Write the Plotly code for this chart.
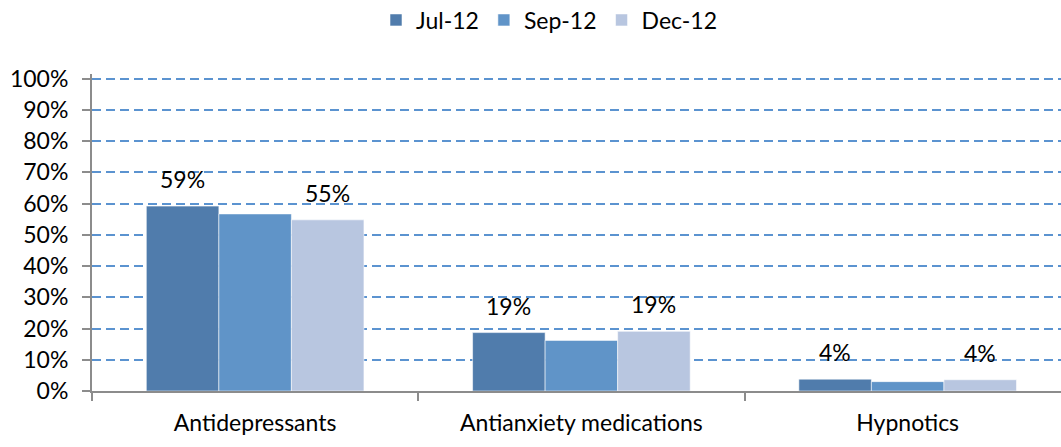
import plotly.graph_objects as go

categories = ["Antidepressants", "Antianxiety medications", "Hypnotics"]
series_names = ["Jul-12", "Sep-12", "Dec-12"]
jul_values = [59.2, 18.7, 3.8]
sep_values = [56.7, 16.2, 3.0]
dec_values = [54.8, 19.1, 3.6]
labeled_series = ["Jul-12", "Dec-12"]
y_tick_vals = [0, 10, 20, 30, 40, 50, 60, 70, 80, 90, 100]
y_tick_text = ["0%", "10%", "20%", "30%", "40%", "50%", "60%", "70%", "80%", "90%", "100%"]

colors = ["#507CAC", "#6094C8", "#B8C6E0"]
values = [jul_values, sep_values, dec_values]

FONT = "Lato, 'Open Sans', sans-serif"
FS = 23

fig = go.Figure()
for name, vals, col in zip(series_names, values, colors):
    fig.add_trace(go.Bar(
        x=categories, y=vals, name=name,
        marker=dict(color=col, line=dict(color="rgba(255,255,255,0.55)", width=1)),
        hoverinfo="skip",
    ))

W = 1061
ml, mr = 92, 0
plot_w = W - ml - mr
x_range = [-0.5, 2.47]
px_per_cat = plot_w / (x_range[1] - x_range[0])
bargap = 0.333
bar_w = px_per_cat * (1 - bargap) / 3
offsets = {"Jul-12": -bar_w, "Sep-12": 0, "Dec-12": bar_w}
for name, vals in zip(series_names, values):
    if name not in labeled_series:
        continue
    for c, v in zip(categories, vals):
        fig.add_annotation(
            x=c, y=v, xref="x", yref="y", text=f"{v:.0f}%",
            showarrow=False, yanchor="bottom", xanchor="center",
            xshift=offsets[name], yshift=11,
            font=dict(family=FONT, size=FS, color="#000000"),
        )

fig.update_layout(
    width=1061, height=447,
    margin=dict(l=ml, r=mr, t=74, b=56, autoexpand=False),
    paper_bgcolor="white", plot_bgcolor="white",
    barmode="group", bargap=bargap, bargroupgap=0,
    font=dict(family=FONT, size=FS, color="#000000"),
    showlegend=True,
    legend=dict(orientation="h", x=0.5 + 19 / 1061, xref="container", xanchor="center",
                y=1 - 20 / 447, yref="container", yanchor="middle",
                font=dict(family=FONT, size=FS, color="#000000"),
                itemwidth=30, traceorder="normal",
                bgcolor="rgba(0,0,0,0)"),
)
fig.update_xaxes(
    type="category", range=x_range, automargin=False,
    showline=True, linecolor="#8C8C8C", linewidth=2,
    ticks="outside", tickson="boundaries", ticklen=8, tickcolor="#8C8C8C", tickwidth=2,
    showgrid=False, ticklabelstandoff=10,
    tickfont=dict(family=FONT, size=FS, color="#000000"),
    fixedrange=True,
)
fig.update_yaxes(
    range=[0, 101.5], tickvals=y_tick_vals, ticktext=y_tick_text, automargin=False,
    showline=True, linecolor="#8C8C8C", linewidth=2,
    ticks="outside", ticklen=8, tickcolor="#8C8C8C", tickwidth=2,
    showgrid=True, gridcolor="#5B93D0", gridwidth=1.5, griddash="9px,5px",
    zeroline=False, ticklabelstandoff=9,
    tickfont=dict(family=FONT, size=FS, color="#000000"),
    fixedrange=True,
)

fig.write_html("out.html", config={"displayModeBar": False},
               post_script="document.body.style.margin='0px';")
